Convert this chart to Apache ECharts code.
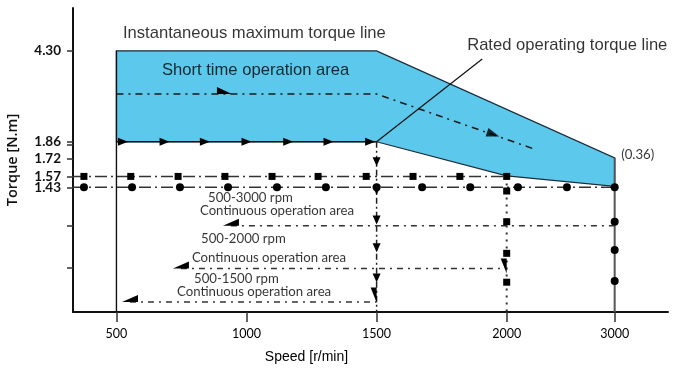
<!DOCTYPE html>
<html>
<head>
<meta charset="utf-8">
<script src="https://cdn.jsdelivr.net/npm/echarts@6/dist/echarts.min.js"></script>
<style>
html,body{margin:0;padding:0;background:#fff;}
#chart{width:700px;height:372px;}
</style>
</head>
<body>
<div id="chart"></div>
<script>
// ---------- DATA (speed in r/min; vertical values in schematic torque-axis levels) ----------
// Speed axis is broken: 2000-3000 r/min is compressed in the original drawing
const X_BREAK = 2000, X_RATIO = 0.415;
const xTickSpeeds = [500, 1000, 1500, 2000, 3000];
const xRangeSpeeds = [333, 3494];

// Torque axis (schematic, not to scale): labelled ticks and their levels
const yTickLabels = ['4.30', '1.86', '1.72', '1.57', '1.43'];
const yTickLevels = [85.9, 56.0, 50.3, 44.6, 41.0];
const yExtraTickLevels = [55.0, 28.5, 14.4];
const yRange = [0, 100];

// Short time operation area (polygon)
const areaSpeeds = [500, 1500, 3000, 3000, 2000, 1500, 500];
const areaLevels = [85.9, 85.9, 50.7, 41.3, 44.8, 56.0, 56.0];

// Rated torque line 1.86 with arrows (500-1500)
const ratedArrowSpeeds = [525, 685, 840, 1000, 1160, 1315, 1475];

// Dash-dot path inside the short-time area
const innerPathSpeeds = [500, 915, 1500, 2280];
const innerPathLevels = [71.7, 71.7, 71.7, 53.3];
const innerSlopeArrow = [1948, 58.4];

// Pointer line for "Rated operating torque line"
const pointerSpeeds = [1500, 1906];
const pointerLevels = [56.0, 83.2];

// 1.57 line with square markers
const sq157Speeds = [375, 555, 737, 917, 1098, 1275, 1460, 1640, 1820, 2000];
// 1.43 line with circle markers
const ci143Speeds = [375, 560, 744, 929, 1117, 1305, 1500, 1675, 1860, 2104, 2558, 3000];

// vertical at 1500: down arrows
const v1500ArrowLevels = [49.4, 40.0, 30.3, 21.1, 11.2];
const v1500HalfArrow = 5.6;
// vertical at 2000: squares and half arrow
const v2000SquareLevels = [39.8, 29.7, 19.3, 9.8];
const v2000HalfArrow = 15.1;
// vertical at 3000: circles
const v3000CircleLevels = [29.7, 20.4, 10.2];

// Continuous operation lines: [startSpeed, endSpeed, level]
const contLines = [
  [940, 3000, 28.4],
  [748, 2000, 14.3],
  [552, 1500, 3.3]
];

// Text annotations: [text, speed, level]
const bigTexts = [
  ['Instantaneous maximum torque line', 525, 91.8],
  ['Short time operation area', 675, 79.6],
  ['Rated operating torque line', 1848, 87.8]
];
const smallTexts = [
  ['(0.36)', 3060, 51.6],
  ['500-3000 rpm', 852, 37.6],
  ['Continuous operation area', 821, 33.3],
  ['500-2000 rpm', 825, 24.0],
  ['Continuous operation area', 790, 17.8],
  ['500-1500 rpm', 798, 10.9],
  ['Continuous operation area', 733, 6.6]
];

// ---------- helpers ----------
function xPos(s) { return s <= X_BREAK ? s : X_BREAK + (s - X_BREAK) * X_RATIO; }
function pt(s, l) { return [xPos(s), l]; }
function yLabel(v) { const i = yTickLevels.findIndex(l => Math.abs(l - v) < 1e-6); return i >= 0 ? yTickLabels[i] : ''; }

const ARROW_R = 'path://M0,0 L12,5 L0,10 Z';
const ARROW_D = 'path://M0,0 L10,0 L5,12 Z';
const HALF_R = 'path://M0,0 L0,7 L15,7 Z';
const HALF_L = 'path://M0,7 L15,7 L15,0 Z';
const HALF_D = 'path://M0,0 L6,0 L6,15 Z';

const chart = echarts.init(document.getElementById('chart'), null, {renderer: 'canvas'});

const series = [];

// polygon
series.push({
  type: 'custom',
  z: 1,
  silent: true,
  data: [[areaSpeeds[0], areaLevels[0]]],
  renderItem: function (params, api) {
    const points = areaSpeeds.map((s, i) => api.coord(pt(s, areaLevels[i])));
    return {
      type: 'polygon',
      shape: {points: points},
      style: {fill: '#5BC8EC', stroke: '#1d2b36', lineWidth: 1.2}
    };
  }
});

// vertical at 500 (solid)
series.push({
  type: 'line', z: 3, symbol: 'none',
  lineStyle: {color: '#111', width: 1.4},
  data: [pt(500, areaLevels[0]), pt(500, 0)]
});

// vertical at 3000 (solid gray) with circles
series.push({
  type: 'line', z: 3, symbol: 'circle', symbolSize: 8,
  itemStyle: {color: '#000'},
  lineStyle: {color: '#555', width: 2},
  data: [{value: pt(3000, areaLevels[2]), symbol: 'none'}]
    .concat(v3000CircleLevels.map(l => pt(3000, l)))
    .concat([{value: pt(3000, 0), symbol: 'none'}])
});

// 1.86 line with right arrows
series.push({
  type: 'line', z: 4, symbol: ARROW_R, symbolSize: [10, 8],
  itemStyle: {color: '#000'},
  lineStyle: {color: '#111', width: 1.4},
  data: [{value: pt(500, 56.0), symbol: 'none'}]
    .concat(ratedArrowSpeeds.map(s => pt(s, 56.0)))
    .concat([{value: pt(1500, 56.0), symbol: 'none'}])
});

// inner dash-dot path
series.push({
  type: 'line', z: 4, symbol: 'none',
  lineStyle: {color: '#1a1a1a', width: 1.5, type: [7, 5, 2, 5]},
  data: innerPathSpeeds.map((s, i) => {
    if (s === 915) return {value: pt(s, innerPathLevels[i]), symbol: HALF_R, symbolSize: [15, 7], symbolOffset: [0, -3.5], itemStyle: {color: '#000'}};
    return pt(s, innerPathLevels[i]);
  })
});
series.push({
  type: 'scatter', z: 5, symbol: ARROW_R, symbolSize: [13, 9], symbolRotate: -19,
  itemStyle: {color: '#000'},
  data: [pt(innerSlopeArrow[0], innerSlopeArrow[1])]
});

// pointer line
series.push({
  type: 'line', z: 4, symbol: 'none',
  lineStyle: {color: '#111', width: 1.2},
  data: pointerSpeeds.map((s, i) => pt(s, pointerLevels[i]))
});

// 1.57 line with squares
series.push({
  type: 'line', z: 4, symbol: 'rect', symbolSize: 7,
  itemStyle: {color: '#000'},
  lineStyle: {color: '#333', width: 1.5, type: [12, 4, 2, 4]},
  data: [{value: pt(xRangeSpeeds[0], 44.6), symbol: 'none'}].concat(sq157Speeds.map(s => pt(s, 44.6)))
});

// 1.43 line with circles
series.push({
  type: 'line', z: 4, symbol: 'circle', symbolSize: 8,
  itemStyle: {color: '#000'},
  lineStyle: {color: '#333', width: 1.5, type: [12, 4, 2, 4]},
  data: [{value: pt(xRangeSpeeds[0], 41.0), symbol: 'none'}].concat(ci143Speeds.map(s => pt(s, 41.0)))
});

// vertical 1500 dash-dot with down arrows
series.push({
  type: 'line', z: 4, symbol: ARROW_D, symbolSize: [8, 9],
  itemStyle: {color: '#000'},
  lineStyle: {color: '#222', width: 1.5, type: [6, 3, 2, 3]},
  data: [{value: pt(1500, 56.0), symbol: 'none'}]
    .concat(v1500ArrowLevels.map(l => pt(1500, l)))
    .concat([{value: pt(1500, v1500HalfArrow), symbol: HALF_D, symbolSize: [6, 15], symbolOffset: [-3, 0]}])
    .concat([{value: pt(1500, 0), symbol: 'none'}])
});

// vertical 2000 dotted with squares
series.push({
  type: 'line', z: 4, symbol: 'rect', symbolSize: 7,
  itemStyle: {color: '#000'},
  lineStyle: {color: '#333', width: 2, type: [2, 5]},
  data: [{value: pt(2000, 44.6), symbol: 'none'}]
    .concat(v2000SquareLevels.slice(0, 2).map(l => pt(2000, l)))
    .concat([{value: pt(2000, v2000HalfArrow), symbol: HALF_D, symbolSize: [6, 15], symbolOffset: [-3, 0]}])
    .concat(v2000SquareLevels.slice(2).map(l => pt(2000, l)))
    .concat([{value: pt(2000, 0), symbol: 'none'}])
    .sort((a, b) => (b.value || b)[1] - (a.value || a)[1])
});

// continuous operation lines
contLines.forEach(c => {
  series.push({
    type: 'line', z: 4, symbol: 'none',
    lineStyle: {color: '#333', width: 1.5, type: [6, 5, 2, 5]},
    data: [{value: pt(c[0], c[2]), symbol: HALF_L, symbolSize: [16, 7], symbolOffset: [0, -3.5], itemStyle: {color: '#000'}},
           pt(c[1], c[2])]
  });
});

// texts
series.push({
  type: 'scatter', z: 6, symbolSize: 0, silent: true,
  label: {show: true, position: 'right', distance: 0, formatter: p => p.name,
          fontFamily: 'Liberation Sans, Arial, sans-serif', fontSize: 16.6, color: '#000'},
  labelLayout: {hideOverlap: false},
  data: bigTexts.map(t => ({name: t[0], value: pt(t[1], t[2])}))
});
series.push({
  type: 'scatter', z: 6, symbolSize: 0, silent: true,
  label: {show: true, position: 'right', distance: 0, formatter: p => p.name,
          fontFamily: 'Lato, sans-serif', fontSize: 13.2, color: '#000'},
  labelLayout: {hideOverlap: false},
  data: smallTexts.map(t => ({name: t[0], value: pt(t[1], t[2])}))
});

const yLabelStyle = {show: true, margin: 12, hideOverlap: false, fontFamily: 'Lato, sans-serif', fontWeight: 'bold', fontSize: 13.5, color: '#111', formatter: yLabel};
// labels split over two overlaid axes so the close 1.57 / 1.43 labels are both drawn
const yLabelsA = yTickLevels.filter((l, i) => i % 2 === 0);
const yLabelsB = yTickLevels.filter((l, i) => i % 2 === 1);

const option = {
  animation: false,
  backgroundColor: '#fff',
  grid: {left: 73, right: 32, top: 8, bottom: 60, containLabel: false, outerBoundsMode: 'none'},
  xAxis: {
    type: 'value',
    min: xPos(xRangeSpeeds[0]), max: xPos(xRangeSpeeds[1]),
    name: 'Speed [r/min]', nameLocation: 'middle', nameGap: 38,
    nameTextStyle: {fontFamily: 'Liberation Sans, Arial, sans-serif', fontSize: 14, color: '#000', padding: [0, 128, 0, 0]},
    axisLine: {show: true, onZero: false, lineStyle: {color: '#111', width: 2}},
    axisTick: {show: true, length: 10, lineStyle: {color: '#333', width: 1.5}, customValues: xTickSpeeds.map(xPos)},
    axisLabel: {show: true, margin: 15, hideOverlap: false, fontFamily: 'Lato, sans-serif', fontSize: 12.5, color: '#000',
      customValues: xTickSpeeds.map(xPos),
      formatter: v => { const i = xTickSpeeds.findIndex(s => Math.abs(xPos(s) - v) < 1e-6); return i >= 0 ? String(xTickSpeeds[i]) : ''; }},
    splitLine: {show: false}
  },
  yAxis: [{
    type: 'value',
    min: yRange[0], max: yRange[1],
    name: 'Torque [N.m]', nameLocation: 'middle', nameGap: 53,
    nameTextStyle: {fontFamily: 'Open Sans, sans-serif', fontWeight: 600, fontSize: 14.5, color: '#111'},
    axisLine: {show: true, onZero: false, lineStyle: {color: '#111', width: 2}},
    axisTick: {show: true, length: 6, lineStyle: {color: '#333', width: 1.5}, customValues: yTickLevels.concat(yExtraTickLevels)},
    axisLabel: Object.assign({}, yLabelStyle, {customValues: yLabelsA}),
    splitLine: {show: false}
  }, {
    type: 'value',
    position: 'left', offset: 0,
    min: yRange[0], max: yRange[1],
    axisLine: {show: false},
    axisTick: {show: false},
    axisLabel: Object.assign({}, yLabelStyle, {customValues: yLabelsB}),
    splitLine: {show: false}
  }],
  series: series
};
chart.setOption(option);
</script>
</body>
</html>
